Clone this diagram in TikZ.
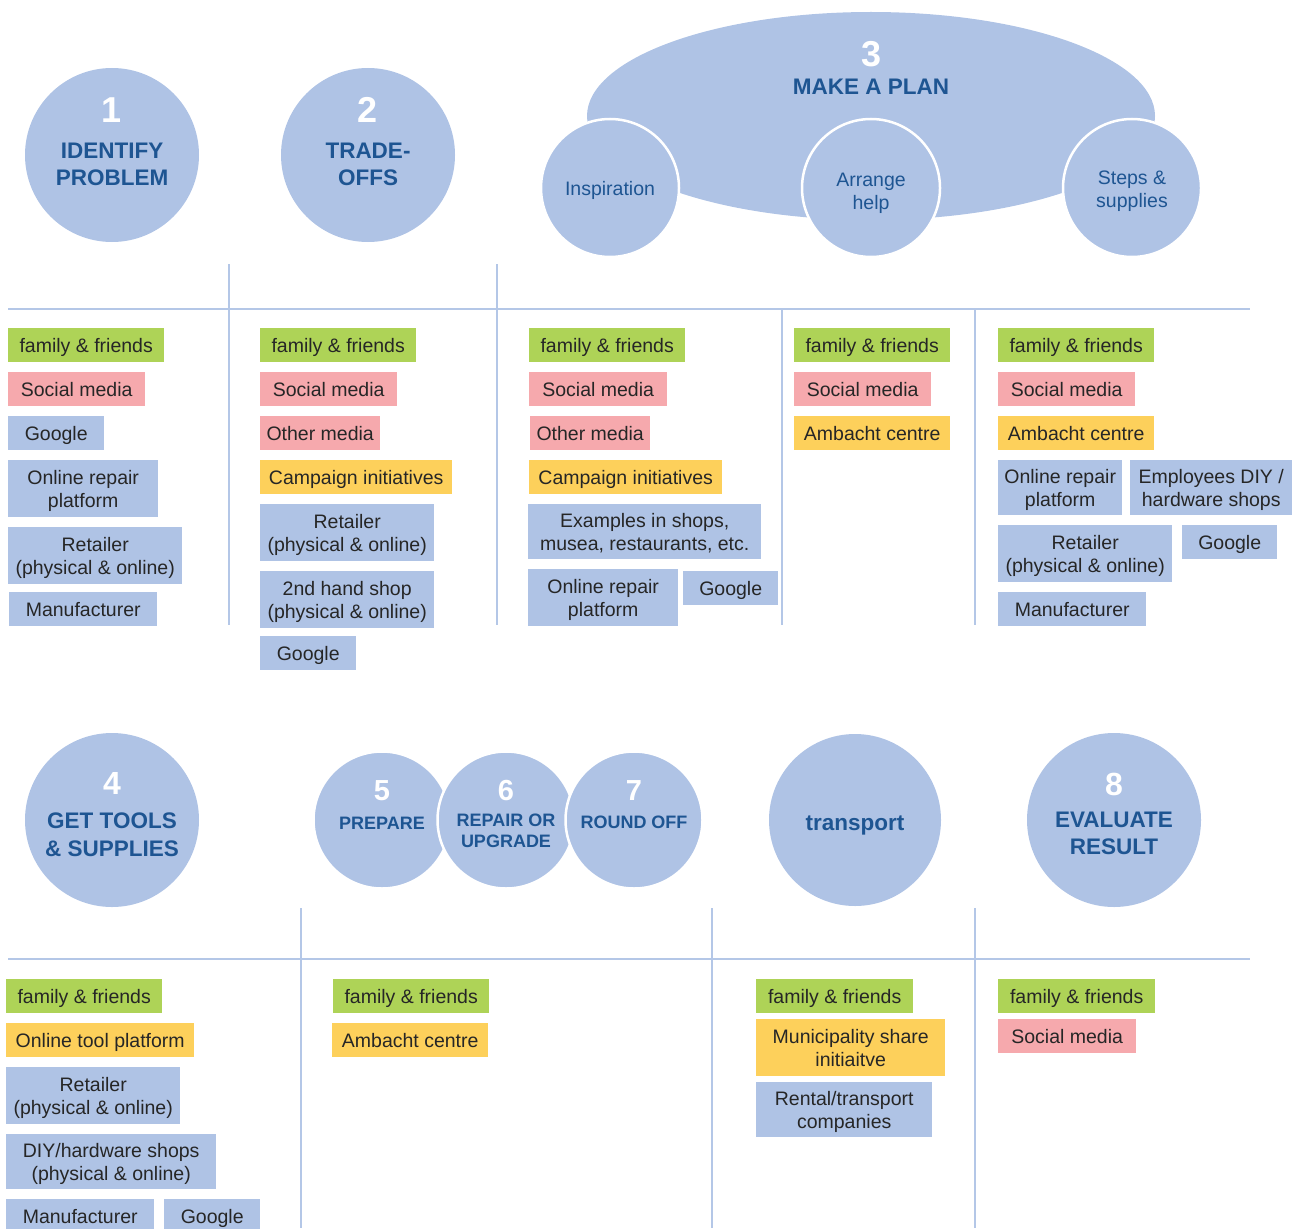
\documentclass[tikz,border=0pt]{standalone}
\usepackage{fontspec}
\setmainfont{Liberation Sans}
\usetikzlibrary{shapes.geometric}

\definecolor{stepfill}{HTML}{AFC3E5}
\definecolor{steptext}{HTML}{1E5592}
\definecolor{rule}{HTML}{B4C7E7}
\definecolor{cgreen}{HTML}{AED357}
\definecolor{cpink}{HTML}{F6A9AD}
\definecolor{cyellow}{HTML}{FDD05B}
\definecolor{cblue}{HTML}{AFC3E5}
\definecolor{boxtext}{HTML}{262626}

% line strut: every box line gets the same height and depth
\newcommand\linestrut{\rule[-4pt]{0pt}{22pt}}
% one labelled box: name, colour style, left, top, width, height, text
\newcommand\bx[7]{%
  \node[#2, minimum width=#5pt, minimum height=#6pt] (#1) at (#3,#4) {\linestrut#7\linestrut};}

\tikzset{
  x=1pt, y=-1pt,
  box/.style={anchor=north west, inner sep=0pt, align=center, text=boxtext,
    font=\fontsize{19.5}{23}\selectfont},
  grn/.style={box, fill=cgreen},
  pnk/.style={box, fill=cpink},
  ylw/.style={box, fill=cyellow},
  blu/.style={box, fill=cblue},
  stepdisc/.style={circle, fill=stepfill, inner sep=0pt},
  subdisc/.style={circle, fill=stepfill, draw=white, line width=2.5pt, inner sep=0pt},
  bignum/.style={anchor=base, text=white, font=\fontsize{36}{40}\selectfont\bfseries},
  midnum/.style={anchor=base, text=white, font=\fontsize{32}{36}\selectfont\bfseries},
  smallnum/.style={anchor=base, text=white, font=\fontsize{29}{34}\selectfont\bfseries},
  title/.style={anchor=base, text=steptext, font=\fontsize{22.5}{27}\selectfont\bfseries},
  smalltitle/.style={anchor=base, text=steptext, font=\fontsize{18}{22}\selectfont\bfseries},
  subtitle/.style={anchor=base, text=steptext, font=\fontsize{19.5}{23}\selectfont},
  divider/.style={draw=rule, line width=2.5pt},
}

\begin{document}
\begin{tikzpicture}
\useasboundingbox (0,0) rectangle (1297,1228);

% ---------- dividers ----------
\draw[divider] (8,309) -- (1250,309);
\draw[divider] (229,264) -- (229,625);
\draw[divider] (497,264) -- (497,625);
\draw[divider] (782,309) -- (782,625);
\draw[divider] (975,309) -- (975,625);
\draw[divider] (8,959) -- (1250,959);
\draw[divider] (301,908) -- (301,1228);
\draw[divider] (712,908) -- (712,1228);
\draw[divider] (975,908) -- (975,1228);

% ---------- step 1 and 2 ----------
\node[stepdisc, minimum size=174pt] (c1) at (112,155) {};
\node[bignum] (n1) at (112,123) {1};
\node[title] (t1a) at (112,158) {IDENTIFY};
\node[title] (t1b) at (112,185) {PROBLEM};

\node[stepdisc, minimum size=174pt] (c2) at (368,155) {};
\node[bignum] (n2) at (368,123) {2};
\node[title] (t2a) at (368,158) {TRADE-};
\node[title] (t2b) at (368,185) {OFFS};

% ---------- step 3 ----------
\node[ellipse, fill=stepfill, inner sep=0pt, minimum width=568pt, minimum height=208pt] (c3) at (871,116) {};
\node[bignum] (n3) at (871,67) {3};
\node[title] (t3) at (871,95) {MAKE A PLAN};

\node[subdisc, minimum size=138pt] (s1) at (610,188) {};
\node[subdisc, minimum size=138pt] (s2) at (871,188) {};
\node[subdisc, minimum size=138pt] (s3) at (1132,188) {};
\node[subtitle] (s1a) at (610,195) {Inspiration};
\node[subtitle] (s2a) at (871,186) {Arrange};
\node[subtitle] (s2b) at (871,209) {help};
\node[subtitle] (s3a) at (1132,184) {Steps \&};
\node[subtitle] (s3b) at (1132,207) {supplies};

% ---------- boxes, upper row ----------
\bx{ff1}{grn}{8}{328}{156}{34}{family \& friends}
\bx{sm1}{pnk}{8}{372}{137}{34}{Social media}
\bx{go1}{blu}{8}{416}{96}{34}{Google}
\bx{or1}{blu}{8}{460}{150}{57}{Online repair\\platform}
\bx{re1}{blu}{8}{527}{174}{57}{Retailer\\(physical \& online)}
\bx{ma1}{blu}{9}{592}{148}{34}{Manufacturer}

\bx{ff2}{grn}{260}{328}{156}{34}{family \& friends}
\bx{sm2}{pnk}{260}{372}{137}{34}{Social media}
\bx{om2}{pnk}{260}{416}{120}{34}{Other media}
\bx{ci2}{ylw}{260}{460}{192}{34}{Campaign initiatives}
\bx{re2}{blu}{260}{504}{174}{57}{Retailer\\(physical \& online)}
\bx{sh2}{blu}{260}{571}{174}{57}{2nd hand shop\\(physical \& online)}
\bx{go2}{blu}{260}{636}{96}{34}{Google}

\bx{ff3}{grn}{529}{328}{156}{34}{family \& friends}
\bx{sm3}{pnk}{529}{372}{138}{34}{Social media}
\bx{om3}{pnk}{530}{416}{120}{34}{Other media}
\bx{ci3}{ylw}{529}{460}{193}{34}{Campaign initiatives}
\bx{ex3}{blu}{528}{504}{233}{55}{Examples in shops,\\musea, restaurants, etc.}
\bx{or3}{blu}{528}{569}{150}{57}{Online repair\\platform}
\bx{go3}{blu}{683}{571}{95}{34}{Google}

\bx{ff4}{grn}{794}{328}{156}{34}{family \& friends}
\bx{sm4}{pnk}{794}{372}{137}{34}{Social media}
\bx{am4}{ylw}{794}{416}{156}{34}{Ambacht centre}

\bx{ff5}{grn}{998}{328}{156}{34}{family \& friends}
\bx{sm5}{pnk}{998}{372}{137}{34}{Social media}
\bx{am5}{ylw}{998}{416}{156}{34}{Ambacht centre}
\bx{or5}{blu}{998}{460}{124}{55}{Online repair\\platform}
\bx{em5}{blu}{1130}{460}{162}{55}{Employees DIY /\\hardware shops}
\bx{re5}{blu}{998}{525}{174}{57}{Retailer\\(physical \& online)}
\bx{go5}{blu}{1182}{525}{95}{34}{Google}
\bx{ma5}{blu}{998}{592}{148}{34}{Manufacturer}

% ---------- steps 4 to 8 ----------
\node[stepdisc, minimum size=174pt] (c4) at (112,820) {};
\node[midnum] (n4) at (112,794) {4};
\node[title] (t4a) at (112,828) {GET TOOLS};
\node[title] (t4b) at (112,856) {\& SUPPLIES};

\node[subdisc, minimum size=137pt] (c5) at (382,820) {};
\node[subdisc, minimum size=137pt] (c6) at (506,820) {};
\node[subdisc, minimum size=137pt] (c7) at (634,820) {};
\node[smallnum] (n5) at (382,800) {5};
\node[smalltitle] (t5) at (382,829) {PREPARE};
\node[smallnum] (n6) at (506,800) {6};
\node[smalltitle] (t6a) at (506,826) {REPAIR OR};
\node[smalltitle] (t6b) at (506,847) {UPGRADE};
\node[smallnum] (n7) at (634,800) {7};
\node[smalltitle] (t7) at (634,828) {ROUND OFF};

\node[stepdisc, minimum size=172pt] (ct) at (855,820) {};
\node[title] (tt) at (855,830) {transport};

\node[stepdisc, minimum size=174pt] (c8) at (1114,820) {};
\node[midnum] (n8) at (1114,795) {8};
\node[title] (t8a) at (1114,827) {EVALUATE};
\node[title] (t8b) at (1114,854) {RESULT};

% ---------- boxes, lower row ----------
\bx{ff6}{grn}{6}{979}{156}{34}{family \& friends}
\bx{ot6}{ylw}{6}{1023}{188}{34}{Online tool platform}
\bx{re6}{blu}{6}{1067}{174}{57}{Retailer\\(physical \& online)}
\bx{di6}{blu}{6}{1134}{210}{55}{DIY/hardware shops\\(physical \& online)}
\bx{ma6}{blu}{6}{1199}{148}{34}{Manufacturer}
\bx{go6}{blu}{164}{1199}{96}{34}{Google}

\bx{ff7}{grn}{333}{979}{156}{34}{family \& friends}
\bx{am7}{ylw}{332}{1023}{156}{34}{Ambacht centre}

\bx{ff8}{grn}{756}{979}{157}{34}{family \& friends}
\bx{mu8}{ylw}{756}{1019}{189}{57}{Municipality share\\initiaitve}
\bx{rt8}{blu}{756}{1082}{176}{55}{Rental/transport\\companies}

\bx{ff9}{grn}{998}{979}{157}{34}{family \& friends}
\bx{sm9}{pnk}{998}{1019}{138}{34}{Social media}
\end{tikzpicture}
\end{document}
